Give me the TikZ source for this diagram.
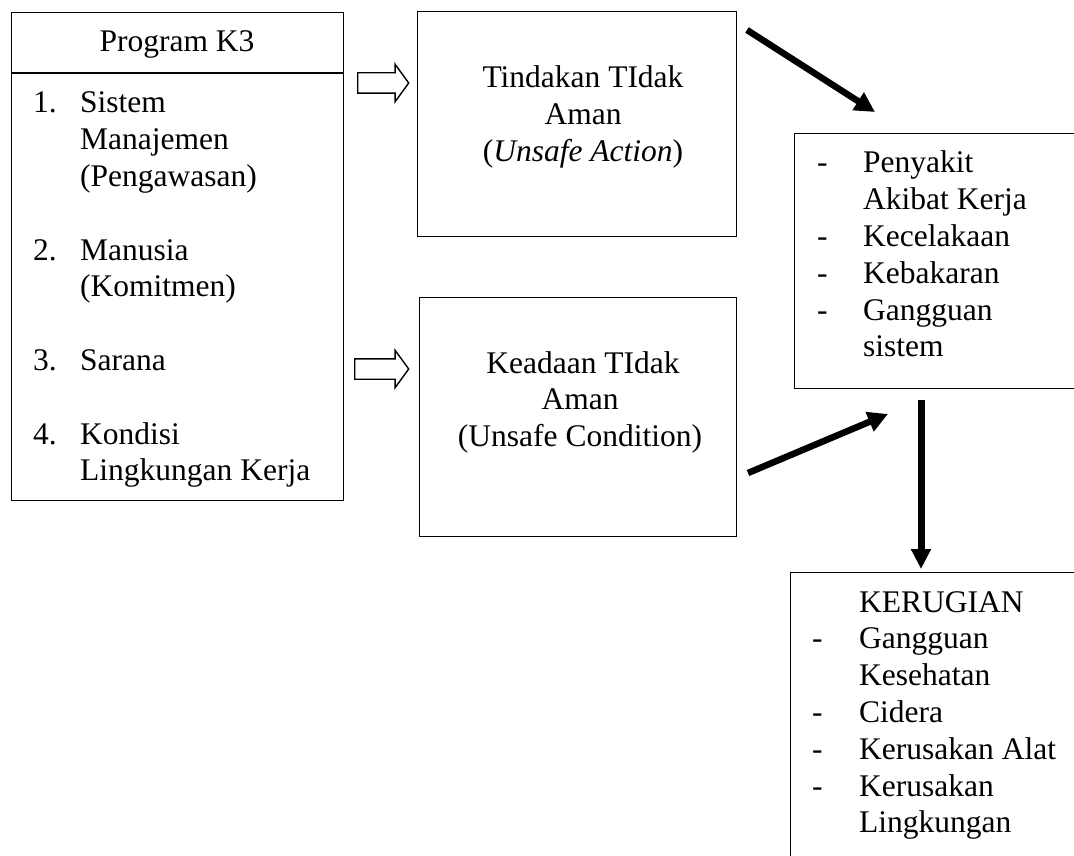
\documentclass[tikz,border=0pt]{standalone}
\usepackage{fontspec}
\setmainfont{Liberation Serif}
\usetikzlibrary{arrows.meta,shapes.arrows}
\tikzset{
	kotak/.style={draw,line width=1.4pt,inner sep=0pt,anchor=north west},
	teks/.style={inner sep=0pt,font=\fontsize{31.5}{36.8}\selectfont},
	panahblok/.style={draw,line width=1.4pt,single arrow,single arrow head extend=8.5pt,single arrow tip angle=108,inner xsep=0pt,inner ysep=9.5pt,anchor=west},
	panahtebal/.style={line width=6.5pt,-{Triangle[width=20pt,length=20pt]}}
}
\begin{document}
\begin{tikzpicture}[x=1pt,y=-1pt]
			\useasboundingbox (0,0) rectangle (1074,856);
			\clip (0,0) rectangle (1074,856);
			\node [kotak,minimum width=332pt,minimum height=488pt] (program) at (11,12) {};
			\draw [line width=1.4pt] (11,73) -- (343,73);
			\node [kotak,minimum width=319pt,minimum height=225pt] (tindakan) at (417,11) {};
			\node [kotak,minimum width=317pt,minimum height=239pt] (keadaan) at (419,297) {};
			\node [kotak,minimum width=320pt,minimum height=255pt] (akibat) at (794,133) {};
			\node [kotak,minimum width=320pt,minimum height=320pt] (kerugian) at (790,572) {};
			\node [teks,anchor=base] (judul) at (177,52) {Program K3};
			\node [teks,anchor=base west] (daftar) at (33,113) {\begin{tabular}[t]{@{}p{47pt}@{}l@{}}
				1. & Sistem\\ & Manajemen\\ & (Pengawasan)\\ & \\
				2. & Manusia\\ & (Komitmen)\\ & \\
				3. & Sarana\\ & \\
				4. & Kondisi\\ & Lingkungan Kerja
			\end{tabular}};
			\node [teks,anchor=base] (teksTindakan) at (583,88) {\begin{tabular}[t]{@{}c@{}}
				Tindakan TIdak\\ Aman\\ (\textit{Unsafe Action})
			\end{tabular}};
			\node [teks,anchor=base] (teksKeadaan) at (580,373) {\begin{tabular}[t]{@{}c@{}}
				\hspace*{6pt}Keadaan TIdak\\ Aman\\ (Unsafe Condition)
			\end{tabular}};
			\node [teks,anchor=base west] (teksAkibat) at (817,173) {\begin{tabular}[t]{@{}p{46pt}@{}l@{}}
				- & Penyakit\\ & Akibat Kerja\\ - & Kecelakaan\\ - & Kebakaran\\ - & Gangguan\\ & sistem
			\end{tabular}};
			\node [teks,anchor=base west] (teksKerugian) at (812,612) {\begin{tabular}[t]{@{}p{47pt}@{}l@{}}
				& KERUGIAN\\ - & Gangguan\\ & Kesehatan\\ - & Cidera\\ - & Kerusakan Alat\\ - & Kerusakan\\ & Lingkungan
			\end{tabular}};
			% panah
			\node [panahblok,minimum height=51pt] (blok1) at (357,83) {};
			\node [panahblok,minimum height=54pt] (blok2) at (354,369) {};
			\coordinate (p1) at (747,30);
			\coordinate (p2) at (875,112);
			\coordinate (p3) at (748,473);
			\coordinate (p4) at (888,414);
			\coordinate (p5) at (921,400);
			\coordinate (p6) at (921,569);
			\draw [panahtebal] (p1) -- (p2);
			\draw [panahtebal] (p3) -- (p4);
			\draw [line width=7pt,-{Triangle[width=19pt,length=20pt]}] (p5) -- (p6);
		\end{tikzpicture}
\end{document}
